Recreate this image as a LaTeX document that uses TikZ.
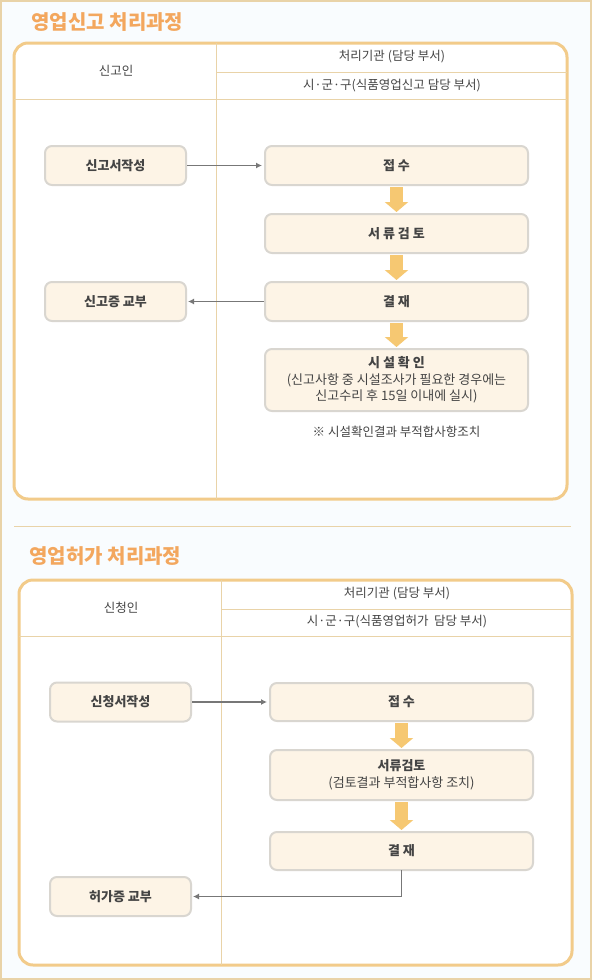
\documentclass[tikz,border=0pt]{standalone}
\usepackage{fontspec}
\setmainfont{Noto Sans CJK KR}
\usetikzlibrary{arrows.meta,positioning}

\definecolor{frameorange}{HTML}{F2CB8A}
\definecolor{linetan}{HTML}{E9D3A8}
\definecolor{titleorange}{HTML}{F3A75E}
\definecolor{boxfill}{HTML}{FDF4E6}
\definecolor{boxdraw}{HTML}{D9D6D0}
\definecolor{flowfill}{HTML}{F6C872}
\definecolor{linkgray}{HTML}{777777}
\definecolor{txtgray}{HTML}{444444}
\definecolor{pagebg}{HTML}{F9FCFE}

\begin{document}
\begin{tikzpicture}[
    x=1pt, y=-1pt,
    stepbox/.style={rectangle, draw=boxdraw, fill=boxfill, line width=2pt, outer sep=0pt, rounded corners=7pt, minimum width=263pt, minimum height=39pt, align=center, font=\bfseries\fontsize{13}{16.5}\selectfont, text=txtgray, inner sep=2pt},
    sidebox/.style={stepbox, minimum width=141pt},
    head/.style={font=\fontsize{12.5}{14}\selectfont, text=txtgray},
    note/.style={font=\fontsize{12.5}{16.5}\selectfont, text=txtgray, align=center},
    title/.style={anchor=west, font=\bfseries\fontsize{20}{22}\selectfont, text=titleorange},
    frame/.style={draw=frameorange, fill=white, line width=3pt, rounded corners=14pt},
    rule/.style={draw=linetan, line width=1pt},
    flow/.style={-{Triangle[width=23pt,length=10pt]}, line width=13pt, draw=flowfill, shorten <=2pt, shorten >=2pt},
    link/.style={-{Latex[length=6pt,width=6pt]}, line width=1.8pt, draw=linkgray}
]
    \useasboundingbox (0,0) rectangle (592,980);
    \fill[pagebg] (0,0) rectangle (592,980);
    \draw[linetan, line width=1.5pt] (1,1) rectangle (591,979);

    % --- 영업신고 ---
    \node[title] (title1) at (28,22) {영업신고 처리과정};
    \draw[frame] (14,43) rectangle (567,499);
    \draw[rule] (216,43) -- (216,499);
    \draw[rule] (216,72) -- (567,72);
    \draw[rule] (14,99) -- (567,99);
    \node[head] (who1) at (116,71) {신고인};
    \node[head] (org1) at (392,57) {처리기관 (담당 부서)};
    \node[head] (dept1) at (392,86) {시·군·구(식품영업신고 담당 부서)};

    \node[sidebox] (write1) at (115.5,165.5) {신고서작성};
    \node[sidebox] (issue1) at (115.5,301.5) {신고증 교부};
    \node[stepbox] (recv1) at (396.5,165.5) {접 수};
    \node[stepbox, below=29pt of recv1] (review1) {서 류 검 토};
    \node[stepbox, below=29pt of review1] (approve1) {결 재};
    \node[stepbox, below=28pt of approve1, minimum height=62pt] (check1) {시 설 확 인\\{\mdseries(신고사항 중 시설조사가 필요한 경우에는}\\{\mdseries 신고수리 후 15일 이내에 실시)}};
    \node[note, below=12pt of check1] (remark1) {※ 시설확인결과 부적합사항조치};

    \draw[link, shorten <=1pt, shorten >=3pt] (write1) -- (recv1);
    \draw[link, shorten <=1pt, shorten >=2pt] (approve1) -- (issue1);
    \draw[flow] (recv1) -- (review1);
    \draw[flow] (review1) -- (approve1);
    \draw[flow] (approve1) -- (check1);

    \draw[rule] (14,526) -- (571,526);

    % --- 영업허가 ---
    \node[title] (title2) at (26,556) {영업허가 처리과정};
    \draw[frame] (19,580) rectangle (572,965);
    \draw[rule] (221,580) -- (221,965);
    \draw[rule] (221,609) -- (572,609);
    \draw[rule] (19,636) -- (572,636);
    \node[head] (who2) at (121,608) {신청인};
    \node[head] (org2) at (397,594) {처리기관 (담당 부서)};
    \node[head] (dept2) at (397,622) {시·군·구(식품영업허가~~담당 부서)};

    \node[sidebox] (write2) at (120.5,702) {신청서작성};
    \node[sidebox] (issue2) at (120.5,896.5) {허가증 교부};
    \node[stepbox, minimum height=38pt] (recv2) at (401.5,702) {접 수};
    \node[stepbox, below=29pt of recv2, minimum height=50pt] (review2) {서류검토\\{\mdseries(검토결과 부적합사항 조치)}};
    \node[stepbox, below=32pt of review2, minimum height=38pt] (approve2) {결 재};

    \draw[link, shorten <=1pt, shorten >=3pt] (write2) -- (recv2);
    \draw[link, shorten >=2pt] (approve2.south) |- (issue2.east);
    \draw[flow] (recv2) -- (review2);
    \draw[flow] (review2) -- (approve2);
\end{tikzpicture}
\end{document}
